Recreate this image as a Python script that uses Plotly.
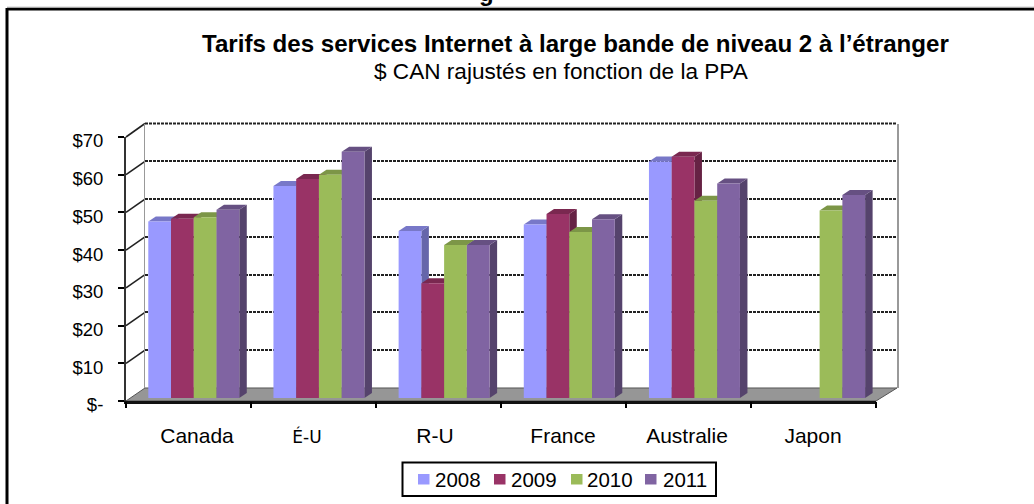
import plotly.graph_objects as go

categories = ["Canada", "É-U", "R-U", "France", "Australie", "Japon"]
years = ["2008", "2009", "2010", "2011"]
v2008 = [46.8, 56.2, 44.3, 46.0, 62.7, None]
v2009 = [47.5, 58.1, 30.4, 48.8, 64.0, None]
v2010 = [47.9, 59.2, 40.6, 44.0, 52.3, 49.7]
v2011 = [49.9, 65.3, 40.6, 47.4, 56.9, 53.8]
series = [v2008, v2009, v2010, v2011]
colors = ["#9999FF", "#993366", "#9BBB59", "#8064A2"]
top_colors = ["#7878C8", "#7A2850", "#7C9647", "#665082"]
side_colors = ["#6666AA", "#662244", "#677D3B", "#55436C"]
y_ticks = [0, 10, 20, 30, 40, 50, 60, 70]
y_labels = ["$-", "$10", "$20", "$30", "$40", "$50", "$60", "$70"]
title_1 = "Tarifs des services Internet à large bande de niveau 2 à l’étranger"
title_2 = "$ CAN rajustés en fonction de la PPA"

W, H = 1034, 504
FONT = "Liberation Sans, Arial, sans-serif"


def px(x):
    return x / W


def py(y):
    return (H - y) / H


fig = go.Figure()

BAR_X = (131.2, 882.2)
BAR_Y = (398, 134)
slot = (BAR_X[1] - BAR_X[0]) / 6
unit = (BAR_Y[0] - BAR_Y[1]) / 70
bargap = 0.273
bw = (1 - bargap) / 4
dx = 7.5 / slot
dy = 5 / unit

# Extruded sides and tops, painted left to right under the front faces
order = sorted(
    ((i, j) for j in range(4) for i in range(6) if series[j][i] is not None),
    key=lambda t: (t[0], t[1]))
for i, j in order:
    v = series[j][i]
    left = i + 0.5 - 2 * bw + j * bw
    right = left + bw
    fig.add_trace(go.Scatter(
        x=[right, right + dx, right + dx, right, right],
        y=[v, v + dy, dy, 0, v],
        mode="lines", fill="toself", fillcolor=side_colors[j],
        line=dict(width=0), hoverinfo="skip", showlegend=False,
        xaxis="x2", yaxis="y2"))
    fig.add_trace(go.Scatter(
        x=[left, right, right + dx, left + dx, left],
        y=[v, v, v + dy, v + dy, v],
        mode="lines", fill="toself", fillcolor=top_colors[j],
        line=dict(width=0), hoverinfo="skip", showlegend=False,
        xaxis="x2", yaxis="y2"))

# Front faces
for j, (vals, year) in enumerate(zip(series, years)):
    fig.add_trace(go.Bar(
        x=[i + 0.5 for i in range(6)], y=vals, name=year,
        marker=dict(color=colors[j], line=dict(width=0)),
        showlegend=False, xaxis="x3", yaxis="y3"))

# Invisible traces keep the wall and front axes alive
for xa, ya in (("x4", "y4"), ("x", "y"), ("x5", "y4")):
    fig.add_trace(go.Scatter(x=[0, 6], y=[0, 70], mode="none", showlegend=False,
                             hoverinfo="skip", xaxis=xa, yaxis=ya))

shapes = []


def poly(points, fill, line=None, width=0, layer="below"):
    path = "M " + " L ".join(f"{px(a):.5f},{py(b):.5f}" for a, b in points) + " Z"
    shapes.append(dict(type="path", path=path, xref="paper", yref="paper",
                       fillcolor=fill, layer=layer,
                       line=dict(color=line or fill, width=width)))


def seg(a, b, c, d, color="#000000", width=2, layer="below", dash="solid"):
    shapes.append(dict(type="line", xref="paper", yref="paper",
                       x0=px(a), y0=py(b), x1=px(c), y1=py(d), layer=layer,
                       line=dict(color=color, width=width, dash=dash)))


# Frame (top and left edges are what the crop keeps)
seg(7, 9, W, 9, width=3)
seg(7, 8, 7, H, width=3)
seg(7, 7, W, 7, color="#CCCCCC", width=1)

# Floor
poly([(126, 401), (876, 401), (897, 388), (145, 388)], "#969696", "#555555", 1)

# Top of the back wall
seg(145, 123.5, 897, 123.5, color="#222222", width=2, dash="3px,1px")

# Left wall connectors
for t in y_ticks[1:]:
    yf = 401 - t * 264 / 70
    yb = 388 - t * 264.5 / 70
    seg(126, yf, 145, yb, color="#222222", width=1.6)

# Legend
LEG_SW = [418, 494, 571, 645]
LEG_TX = [433.5, 509.5, 585.5, 661.5]
shapes.append(dict(type="rect", xref="paper", yref="paper", x0=px(402.5), x1=px(716),
                   y0=py(496), y1=py(462.5), line=dict(color="#000000", width=2),
                   fillcolor="#FFFFFF", layer="above"))
annotations = []
for j, y in enumerate(years):
    shapes.append(dict(type="rect", xref="paper", yref="paper",
                       x0=px(LEG_SW[j]), x1=px(LEG_SW[j] + 11.5), y0=py(484.5), y1=py(474),
                       line=dict(width=0), fillcolor=colors[j], layer="above"))
    annotations.append(dict(text=y, xref="paper", yref="paper", x=px(LEG_TX[j]), y=py(479.5),
                            xanchor="left", yanchor="middle", showarrow=False,
                            borderpad=0, font=dict(family=FONT, size=20.5, color="#000000")))

# Descender of the heading cropped by the top of the picture
annotations.append(dict(text="<b>g</b>", xref="paper", yref="paper", x=px(486), y=py(7),
                        xanchor="center", yanchor="bottom", showarrow=False, borderpad=0,
                        font=dict(family=FONT, size=24, color="#000000")))

# Titles
annotations.append(dict(text=f"<b>{title_1}</b>", xref="paper", yref="paper", x=px(575.5), y=py(43.5),
                        xanchor="center", yanchor="middle", showarrow=False, borderpad=0,
                        font=dict(family=FONT, size=24.1, color="#000000")))
annotations.append(dict(text=title_2, xref="paper", yref="paper", x=px(561.5), y=py(71.5),
                        xanchor="center", yanchor="middle", showarrow=False, borderpad=0,
                        font=dict(family=FONT, size=22.6, color="#000000")))

# Category labels
label_slots = [0.568, 1.448, 2.472, 3.496, 4.488, 5.496]
ticktext = [f'<span style="font-family:DejaVu Sans;font-size:17px">{c}</span>' if c == "É-U" else c
            for c in categories]

hidden = dict(visible=False, fixedrange=True)
fig.update_layout(
    width=W, height=H, margin=dict(l=0, r=0, t=0, b=0, autoexpand=False), autosize=False,
    paper_bgcolor="#FFFFFF", plot_bgcolor="rgba(0,0,0,0)", showlegend=False,
    barmode="group", bargap=bargap, bargroupgap=0,
    shapes=shapes, annotations=annotations,
    font=dict(family=FONT, color="#000000"),
    # back wall
    xaxis=dict(domain=[px(145), px(897)], range=[0, 6], showgrid=False, zeroline=False,
               showticklabels=False, ticks="", anchor="y"),
    yaxis=dict(domain=[py(388), py(123.5)], range=[0, 70], tickvals=y_ticks, showgrid=True,
               gridcolor="#222222", gridwidth=2, griddash="3px,1px", zeroline=False,
               showticklabels=False, ticks="", showline=True, mirror=True,
               linecolor="#999999", linewidth=1.5, anchor="x"),
    # extrusion plane
    xaxis2=dict(domain=[px(BAR_X[0]), px(BAR_X[1])], range=[0, 6], anchor="y2", **hidden),
    yaxis2=dict(domain=[py(BAR_Y[0]), py(BAR_Y[1])], range=[0, 70], anchor="x2", **hidden),
    # bars
    xaxis3=dict(domain=[px(BAR_X[0]), px(BAR_X[1])], range=[0, 6], anchor="y3", **hidden),
    yaxis3=dict(domain=[py(BAR_Y[0]), py(BAR_Y[1])], range=[0, 70], anchor="x3", **hidden),
    # front axes
    xaxis4=dict(domain=[px(126), px(876)], range=[0, 6], anchor="y4", showgrid=False,
                zeroline=False, showline=True, linecolor="#111111", linewidth=2.5,
                tickvals=label_slots, ticktext=ticktext, ticks="", ticklabelstandoff=14,
                tickfont=dict(family=FONT, size=21, color="#000000")),
    xaxis5=dict(domain=[px(126), px(876)], range=[0, 6], anchor="y4", overlaying="x4",
                tickvals=[0, 1, 2, 3, 4, 5, 6], ticks="outside", ticklen=6, tickwidth=2,
                tickcolor="#000000", showticklabels=False, showgrid=False, zeroline=False),
    yaxis4=dict(domain=[py(401), py(137)], range=[0, 70], anchor="x4", tickvals=y_ticks,
                ticktext=y_labels, ticks="outside", ticklen=6, tickwidth=2, tickcolor="#000000",
                showgrid=False, zeroline=False, showline=True, linecolor="#333333", linewidth=2,
                ticklabelstandoff=11, ticklabelshift=4,
                tickfont=dict(family=FONT, size=18.5, color="#000000")),
)

fig.write_html("out.html", config={"displayModeBar": False, "staticPlot": True},
               post_script="document.body.style.margin='0';document.body.style.overflow='hidden';")
